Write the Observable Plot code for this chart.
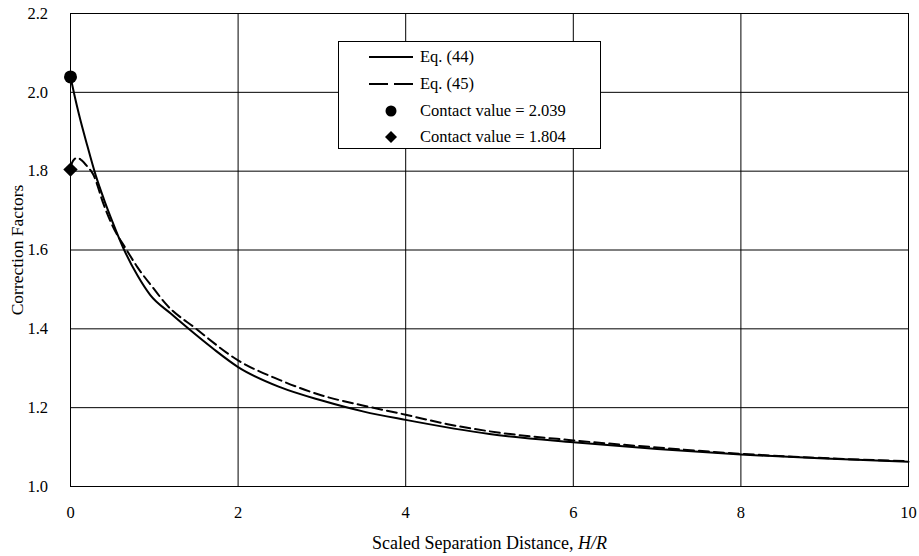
<!DOCTYPE html>
<html><head><meta charset="utf-8">
<script src="https://cdn.jsdelivr.net/npm/d3@7"></script>
<script src="https://cdn.jsdelivr.net/npm/@observablehq/plot@0.6"></script>
<style>
body{margin:0;background:#fff;font-family:"Liberation Serif","Times New Roman",serif;}
#wrap{position:relative;width:919px;height:556px;}
#chart svg{display:block;}
#legend{position:absolute;left:338px;top:41px;width:263px;height:108px;border:1px solid #000;background:#fff;box-sizing:border-box;font-size:16.5px;color:#000;}
.row{position:absolute;left:0;height:20px;line-height:20px;}
.row svg{position:absolute;left:28px;top:0;}
.row span{position:absolute;left:81px;top:0;white-space:nowrap;}
</style></head>
<body><div id="wrap"><div id="chart"></div><div id="legend"></div></div>
<script>
// Eq. (44) — solid curve
const eq44X = [0, 0.05, 0.1, 0.2, 0.3, 0.4, 0.5, 0.63, 0.8, 0.95, 1.2, 1.41, 1.7, 2.0, 2.5, 3.0, 3.5, 4.0, 5.0, 6.0, 7.0, 8.0, 9.0, 10.0];
const eq44Y = [2.039, 1.99, 1.945, 1.865, 1.79, 1.728, 1.672, 1.605, 1.535, 1.486, 1.438, 1.40, 1.35, 1.303, 1.252, 1.218, 1.19, 1.169, 1.133, 1.112, 1.095, 1.081, 1.071, 1.063];
// Eq. (45) — dashed curve
const eq45X = [0, 0.03, 0.08, 0.13, 0.2, 0.27, 0.4, 0.5, 0.67, 0.8, 1.0, 1.13, 1.5, 2.0, 2.5, 3.0, 3.5, 4.0, 4.5, 5.0, 6.0, 7.0, 8.0, 9.0, 10.0];
const eq45Y = [1.81, 1.826, 1.834, 1.828, 1.812, 1.792, 1.713, 1.662, 1.60, 1.556, 1.50, 1.465, 1.40, 1.32, 1.27, 1.231, 1.205, 1.182, 1.158, 1.14, 1.117, 1.099, 1.083, 1.072, 1.064];
// Contact values
const contactX = [0, 0];
const contactY = [2.039, 1.804];
const contactSymbol = ["circle", "diamond2"];
const legendLabels = ["Eq. (44)", "Eq. (45)", "Contact value = 2.039", "Contact value = 1.804"];
const xTicks = [0, 2, 4, 6, 8, 10];
const yTicks = [1.0, 1.2, 1.4, 1.6, 1.8, 2.0, 2.2];

const eq44 = eq44X.map((x, i) => ({x, y: eq44Y[i]}));
const eq45 = eq45X.map((x, i) => ({x, y: eq45Y[i]}));
const contacts = contactX.map((x, i) => ({x, y: contactY[i], s: contactSymbol[i]}));

const chart = Plot.plot({
  width: 919,
  height: 556,
  marginLeft: 70,
  marginRight: 11,
  marginTop: 13,
  marginBottom: 70,
  style: {fontFamily: '"Liberation Serif","Times New Roman",serif', fontSize: "15px", background: "#fff", color: "#000"},
  x: {domain: [0, 10], ticks: xTicks},
  y: {domain: [1.0, 2.2], ticks: yTicks},
  marks: [
    Plot.gridX(xTicks, {stroke: "#000", strokeOpacity: 1, strokeWidth: 1}),
    Plot.gridY(yTicks, {stroke: "#000", strokeOpacity: 1, strokeWidth: 1}),
    Plot.frame({stroke: "#000", strokeWidth: 1}),
    Plot.axisX(xTicks, {tickSize: 0, tickPadding: 20, tickFormat: d => String(d), label: "Scaled Separation Distance, H/R", labelAnchor: "center", labelArrow: "none", labelOffset: 62}),
    Plot.axisY(yTicks, {tickSize: 0, tickPadding: 23, tickFormat: d => d.toFixed(1), label: "Correction Factors", labelAnchor: "center", labelArrow: "none", labelOffset: 60}),
    Plot.line(eq44, {x: "x", y: "y", stroke: "#000", strokeWidth: 2, curve: "monotone-x"}),
    Plot.line(eq45, {x: "x", y: "y", stroke: "#000", strokeWidth: 2, strokeDasharray: "10,5", curve: "monotone-x"}),
    Plot.dot(contacts, {x: "x", y: "y", symbol: "s", fill: "#000", stroke: "none", r: 6.5})
  ]
});
document.getElementById("chart").appendChild(chart);

const svg = d3.select(chart);
svg.selectAll("g[aria-label='x-axis tick label'], g[aria-label='y-axis tick label']").style("font-size", "16.5px");
svg.selectAll("g[aria-label='x-axis tick label'] text, g[aria-label='y-axis tick label'] text").style("font-size", "16.5px");
svg.selectAll("g[aria-label='x-axis label'], g[aria-label='x-axis label'] text").style("font-size", "18px");
svg.selectAll("g[aria-label='y-axis label'], g[aria-label='y-axis label'] text").style("font-size", "17.5px");
// italicize H/R in x label
svg.selectAll("g[aria-label='x-axis label'] text").each(function() {
  const t = d3.select(this);
  t.text("");
  t.append("tspan").text("Scaled Separation Distance, ");
  t.append("tspan").attr("font-style", "italic").text("H/R");
});
// place y tick labels so their right edge sits at x = 48 (screen coordinates)
svg.selectAll("g[aria-label='y-axis tick label']").each(function() {
  const svgRect = chart.getBoundingClientRect();
  const r = this.getBoundingClientRect();
  const shift = 48 - (r.right - svgRect.left);
  const prev = this.getAttribute("transform") || "";
  this.setAttribute("transform", (prev + ` translate(${shift},0)`).trim());
});

// Legend
const legend = document.getElementById("legend");
const rowTops = [5, 32, 59, 85];
legendLabels.forEach((lab, i) => {
  const row = document.createElement("div");
  row.className = "row";
  row.style.top = rowTops[i] + "px";
  let sample = "";
  if (i === 0) sample = '<line x1="2" x2="46" y1="10" y2="10" stroke="#000" stroke-width="2"/>';
  if (i === 1) sample = '<line x1="2" x2="46" y1="10" y2="10" stroke="#000" stroke-width="2" stroke-dasharray="19,6"/>';
  if (i === 2) sample = '<circle cx="24" cy="10" r="5.5" fill="#000"/>';
  if (i === 3) sample = '<path d="M24,4 L30,10 L24,16 L18,10 Z" fill="#000"/>';
  row.innerHTML = '<svg width="50" height="20">' + sample + '</svg><span>' + lab + '</span>';
  legend.appendChild(row);
});
</script>
</body></html>
